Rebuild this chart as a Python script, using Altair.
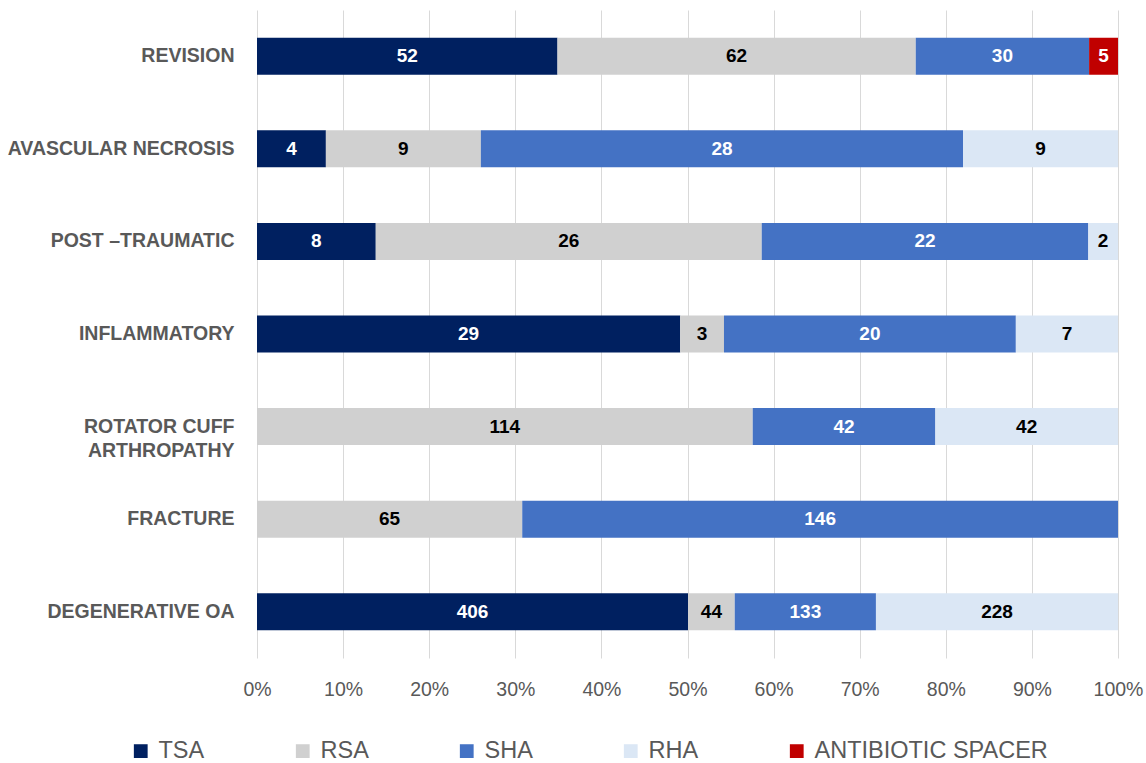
import altair as alt
import pandas as pd

categories = ["REVISION", "AVASCULAR NECROSIS", "POST –TRAUMATIC", "INFLAMMATORY",
              "ROTATOR CUFF ARTHROPATHY", "FRACTURE", "DEGENERATIVE OA"]
series = ["TSA", "RSA", "SHA", "RHA", "ANTIBIOTIC SPACER"]
tsa = [52, 4, 8, 29, 0, 0, 406]
rsa = [62, 9, 26, 3, 114, 65, 44]
sha = [30, 28, 22, 20, 42, 146, 133]
rha = [0, 9, 2, 7, 42, 0, 228]
spacer = [5, 0, 0, 0, 0, 0, 0]
colors = ["#002060", "#d0d0d0", "#4472c4", "#dbe7f5", "#c00000"]
x_ticks = [0, 0.1, 0.2, 0.3, 0.4, 0.5, 0.6, 0.7, 0.8, 0.9, 1.0]

rows = []
for s_idx, (name, vals) in enumerate(zip(series, [tsa, rsa, sha, rha, spacer])):
    for cat, v in zip(categories, vals):
        if v > 0:
            rows.append({"category": cat, "series": name, "value": v, "order": s_idx,
                         "dark": name in ("TSA", "SHA", "ANTIBIOTIC SPACER")})
df = pd.DataFrame(rows)

FONT = "Liberation Sans"
GRAY = "#595959"

base = alt.Chart(df).transform_stack(
    stack="value", groupby=["category"], sort=[alt.SortField("order")],
    as_=["v0", "v1"], offset="normalize"
).transform_calculate(mid="(datum.v0 + datum.v1) / 2")

y_enc = alt.Y(
    "category:N", sort=categories,
    scale=alt.Scale(paddingInner=0.6, paddingOuter=0.3),
    axis=alt.Axis(
        title=None, ticks=False, domain=False, grid=False,
        labelFont=FONT, labelFontSize=19.5, labelFontWeight="bold", labelColor=GRAY,
        labelPadding=23, labelLimit=400, labelLineHeight=24,
        labelExpr="datum.value == 'ROTATOR CUFF ARTHROPATHY' ? ['ROTATOR CUFF', 'ARTHROPATHY'] : datum.value",
    ),
)

bars = base.mark_bar().encode(
    y=y_enc,
    x=alt.X("v0:Q", scale=alt.Scale(domain=[0, 1], nice=False),
            axis=alt.Axis(title=None, format=".0%", values=x_ticks, ticks=False, domain=False,
                          grid=True, gridColor="#d9d9d9", gridWidth=1, labelFlush=False,
                          labelFont=FONT, labelFontSize=19.5, labelColor=GRAY, labelPadding=22)),
    x2="v1:Q",
    color=alt.Color("series:N", sort=series,
                    scale=alt.Scale(domain=series, range=colors),
                    legend=alt.Legend(title=None, orient="none", legendX=-128, legendY=729,
                                      direction="horizontal", symbolType="square", symbolSize=190,
                                      symbolStrokeWidth=0, labelFont=FONT, labelFontSize=23.5,
                                      labelLimit=500, labelColor=GRAY, columnPadding=86,
                                      labelOffset=6)),
)

txt_white = base.transform_filter("datum.dark").mark_text(
    font=FONT, fontSize=19, fontWeight="bold", color="white"
).encode(y=alt.Y("category:N", sort=categories), x="mid:Q", text="value:Q")

txt_black = base.transform_filter("!datum.dark").mark_text(
    font=FONT, fontSize=19, fontWeight="bold", color="black"
).encode(y=alt.Y("category:N", sort=categories), x="mid:Q", text="value:Q")

chart = alt.layer(bars, txt_white, txt_black).properties(
    width=861, height=648,
    autosize=alt.AutoSizeParams(type="none"),
    padding={"left": 257, "top": 10, "right": 28, "bottom": 105},
).configure_view(stroke=None)

chart.save("out.html", embed_options={"renderer": "svg", "actions": False})
